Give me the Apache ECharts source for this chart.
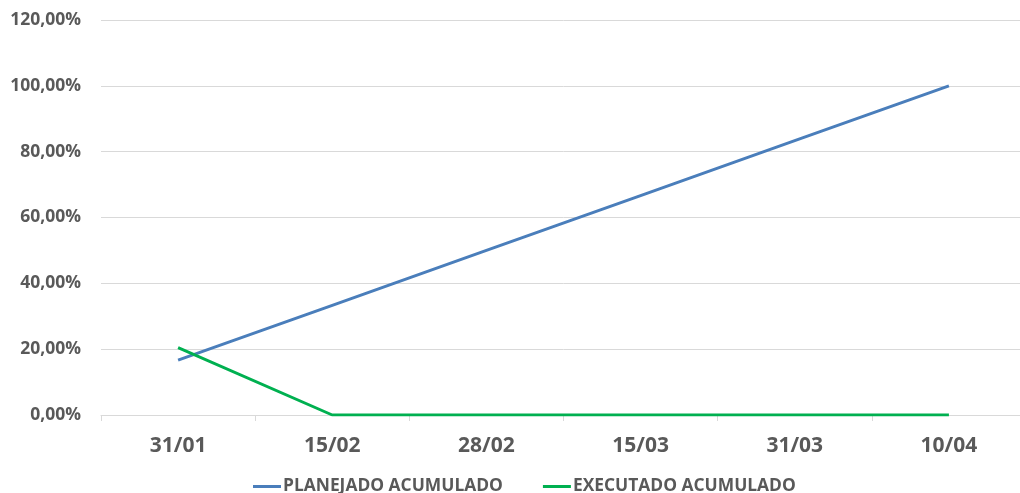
<!DOCTYPE html>
<html>
<head>
<meta charset="utf-8">
<script src="https://cdn.jsdelivr.net/npm/echarts@6/dist/echarts.min.js"></script>
<style>
html,body{margin:0;padding:0;background:#fff;overflow:hidden;width:1020px;height:493px;}
#c{width:1026px;height:493px;}
</style>
</head>
<body>
<div id="c"></div>
<script>
const categories = ['31/01', '15/02', '28/02', '15/03', '31/03', '10/04'];
const planejado = [16.67, 33.33, 50, 66.67, 83.33, 100];
const executado = [20.5, 0, 0, 0, 0, 0];
const seriesNames = ['PLANEJADO ACUMULADO', 'EXECUTADO ACUMULADO'];

const FONT = 'Open Sans';
const TXT = '#595959';
const chart = echarts.init(document.getElementById('c'), null, {renderer: 'canvas'});
chart.setOption({
  animation: false,
  backgroundColor: '#fff',
  textStyle: {fontFamily: FONT},
  grid: {left: 101, top: 20, right: 0, bottom: 78, containLabel: false},
  legend: {
    top: 473,
    left: 248,
    itemWidth: 28,
    itemHeight: 3,
    itemGap: 40,
    icon: 'rect',
    textStyle: {fontFamily: FONT, fontWeight: 'bold', fontSize: 17.4, color: TXT, padding: [0, 0, 0, -3]},
    data: seriesNames
  },
  xAxis: {
    type: 'category',
    data: categories,
    boundaryGap: true,
    axisLine: {lineStyle: {color: '#D9D9D9', width: 1}},
    axisTick: {show: true, length: 6, lineStyle: {color: '#D9D9D9'}},
    axisLabel: {fontFamily: FONT, fontWeight: 'bold', fontSize: 21, color: TXT, margin: 21},
    splitLine: {show: false}
  },
  yAxis: {
    type: 'value',
    min: 0, max: 120, interval: 20,
    axisLine: {show: false},
    axisTick: {show: false},
    axisLabel: {
      fontFamily: FONT, fontWeight: 'bold', fontSize: 17.5, color: TXT, margin: 20,
      formatter: v => v.toFixed(2).replace('.', ',') + '%'
    },
    splitLine: {lineStyle: {color: '#D9D9D9', width: 1}}
  },
  series: [
    {
      name: seriesNames[0], type: 'line', data: planejado,
      symbol: 'none', lineStyle: {color: '#4A7EBB', width: 3}, itemStyle: {color: '#4A7EBB'}
    },
    {
      name: seriesNames[1], type: 'line', data: executado,
      symbol: 'none', lineStyle: {color: '#00B050', width: 3}, itemStyle: {color: '#00B050'}
    }
  ]
});
</script>
</body>
</html>
